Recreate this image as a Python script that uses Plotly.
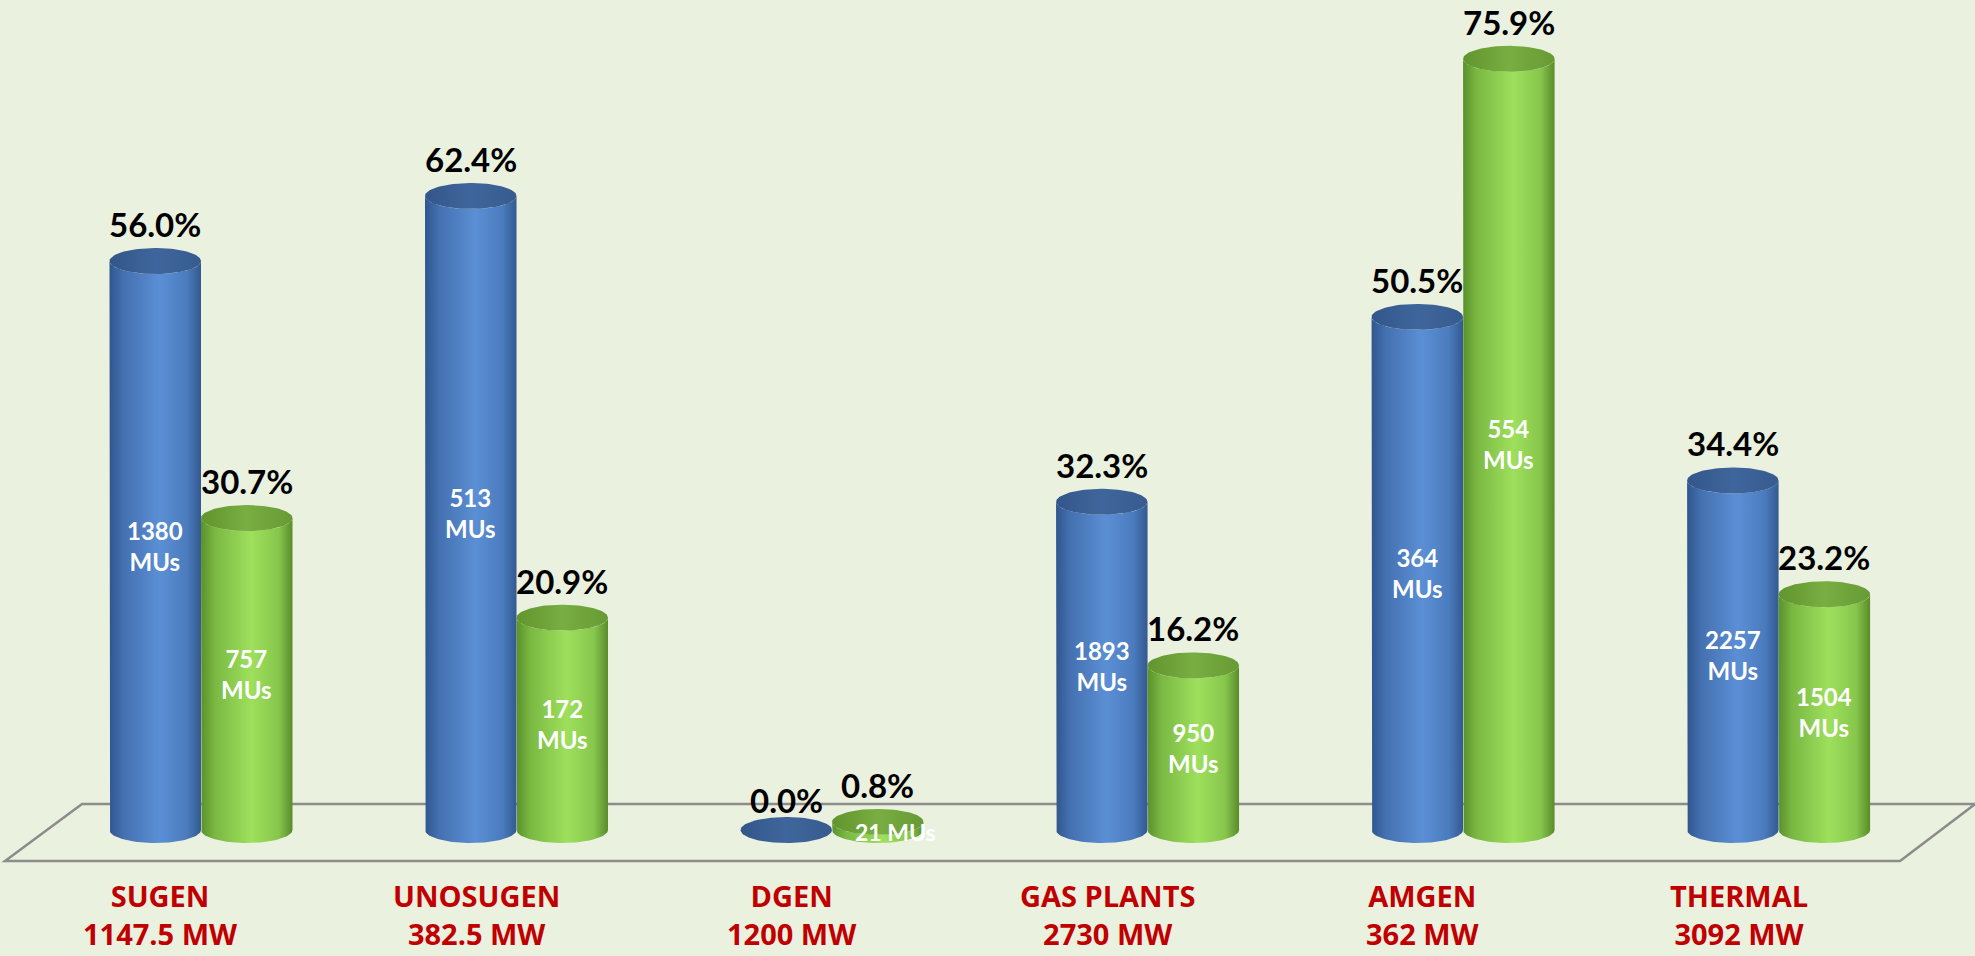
import numpy as np
import plotly.graph_objects as go

# ---------------- data ----------------
categories = ["SUGEN", "UNOSUGEN", "DGEN", "GAS PLANTS", "AMGEN", "THERMAL"]
capacities = ["1147.5 MW", "382.5 MW", "1200 MW", "2730 MW", "362 MW", "3092 MW"]
blue_pct = [56.0, 62.4, 0.0, 32.3, 50.5, 34.4]
green_pct = [30.7, 20.9, 0.8, 16.2, 75.9, 23.2]
blue_mus = [1380, 513, None, 1893, 364, 2257]
green_mus = [757, 172, 21, 950, 554, 1504]

# ---------------- styling ----------------
BG = "#ebf1df"
BAR_W = 0.29            # cylinder width in category units
ELL_B = 1.28            # ellipse vertical semi-axis in y units
BLUE_SCALE = [[0, "#30568e"], [0.15, "#4470b0"], [0.55, "#5b8fd5"],
              [0.85, "#4a7bbd"], [1, "#335990"]]
BLUE_TOP = [[0, "#33568a"], [0.5, "#3f669c"], [1, "#375b8f"]]
GREEN_SCALE = [[0, "#5a912b"], [0.15, "#7ab843"], [0.55, "#9ee05c"],
               [0.85, "#86c64c"], [1, "#5a8b2b"]]
GREEN_TOP = [[0, "#61942d"], [0.5, "#78ae42"], [1, "#679a34"]]

fig = go.Figure()


def add_cylinder(x0, v, body_scale, top_scale):
    a = BAR_W / 2
    cx = x0 + a
    t_low = np.linspace(np.pi, 2 * np.pi, 60)
    t_back = np.linspace(2 * np.pi, np.pi, 60)
    bx = np.concatenate([[x0, x0], cx + a * np.cos(t_low), [x0 + BAR_W],
                         cx + a * np.cos(t_back)])
    by = np.concatenate([[v, 0], ELL_B * np.sin(t_low), [v],
                         v + ELL_B * np.sin(t_back)])
    if v > 0:
        fig.add_trace(go.Scatter(
            x=bx, y=by, mode="lines", fill="toself",
            line=dict(width=0, color="rgba(0,0,0,0)"),
            fillgradient=dict(type="horizontal", colorscale=body_scale),
            hoverinfo="skip", showlegend=False))
    t = np.linspace(0, 2 * np.pi, 120)
    fig.add_trace(go.Scatter(
        x=cx + a * np.cos(t), y=v + ELL_B * np.sin(t), mode="lines",
        fill="toself", line=dict(width=0, color="rgba(0,0,0,0)"),
        fillgradient=dict(type="horizontal", colorscale=top_scale),
        hoverinfo="skip", showlegend=False))


annotations = []
for i, cat in enumerate(categories):
    series = [
        (i - BAR_W, blue_pct[i], blue_mus[i], BLUE_SCALE, BLUE_TOP),
        (i, green_pct[i], green_mus[i], GREEN_SCALE, GREEN_TOP),
    ]
    for x0, v, mu, bs, ts in series:
        add_cylinder(x0, v, bs, ts)
        xc = x0 + BAR_W / 2
        annotations.append(dict(
            x=xc, y=v, text=f"{v:.1f}%", showarrow=False, yanchor="middle",
            yshift=37 if v > 0 else 30,
            font=dict(family="Lato", size=33, color="black", weight="bold")))
        if mu is not None:
            if v >= 5:
                annotations.append(dict(
                    x=xc, y=v / 2, text=f"{mu}<br>MUs", showarrow=False,
                    yanchor="middle",
                    font=dict(family="Lato", size=24, color="white",
                              weight="bold")))
            else:
                annotations.append(dict(
                    x=xc, y=v / 2, text=f"{mu} MUs", showarrow=False,
                    yanchor="middle", xshift=18, yshift=-6,
                    font=dict(family="Lato", size=23, color="white",
                              weight="bold")))
    annotations.append(dict(
        x=i, y=-8.3, text=f"{cat}<br>{capacities[i]}", showarrow=False,
        yanchor="middle", xshift=-40,
        font=dict(family="Open Sans", size=29, color="#c00000",
                  weight="bold")))

# floor (parallelogram) behind the cylinders
floor_path = "M -0.377 2.56 L 5.623 2.56 L 5.385 -3.05 L -0.621 -3.05 Z"

fig.update_layout(
    width=1975, height=956,
    margin=dict(l=0, r=0, t=0, b=0),
    paper_bgcolor=BG, plot_bgcolor=BG,
    xaxis=dict(range=[-0.637, 5.6225], visible=False, fixedrange=True),
    yaxis=dict(range=[-12.40, 81.69], visible=False, fixedrange=True),
    shapes=[dict(type="path", path=floor_path, xref="x", yref="y",
                 line=dict(color="#8c8c8c", width=2.5), layer="below")],
    annotations=annotations,
    showlegend=False,
)

fig.write_html(
    "out.html",
    config={"displayModeBar": False},
    post_script="document.body.style.margin='0';"
                "document.body.style.overflow='hidden';"
                f"document.body.style.background='{BG}';",
)
